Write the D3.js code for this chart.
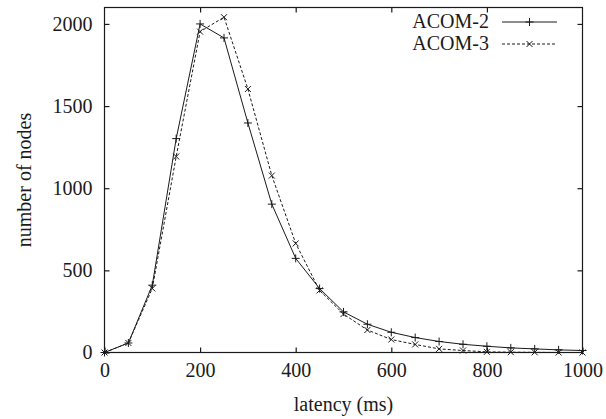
<!DOCTYPE html>
<html>
<head>
<meta charset="utf-8">
<script src="https://cdn.jsdelivr.net/npm/d3@7"></script>
<style>
  html, body { margin: 0; padding: 0; background: #fff; }
  svg { display: block; }
</style>
</head>
<body>
<svg id="chart" width="606" height="419"></svg>
<script>
// latency bins (ms)
const latency = [0, 50, 100, 150, 200, 250, 300, 350, 400, 450, 500,
                 550, 600, 650, 700, 750, 800, 850, 900, 950, 1000];
// number of nodes per latency bin
const acom2 = [0, 58, 410, 1302, 2000, 1915, 1397, 903, 573, 389, 247,
               172, 123, 91, 67, 50, 38, 28, 22, 16, 12];
const acom3 = [0, 58, 390, 1193, 1953, 2041, 1604, 1077, 664, 378, 234,
               137, 79, 49, 22, 12, 4, 2, 1, 0, 0];
const seriesNames = ["ACOM-2", "ACOM-3"];
const xTicks = [0, 200, 400, 600, 800, 1000];
const yTicks = [0, 500, 1000, 1500, 2000];

const serif = "'Liberation Serif'";
const svg = d3.select("#chart");
const plotL = 104.5, plotR = 582.5, plotT = 7.5, plotB = 352.5;
const ink = "#1a1a1a";

const x = d3.scaleLinear().domain([0, 1000]).range([plotL, plotR]);
const y = d3.scaleLinear().domain([0, 2100]).range([plotB, plotT]);

// frame with inward ticks on all sides
svg.append("rect")
  .attr("x", plotL).attr("y", plotT)
  .attr("width", plotR - plotL).attr("height", plotB - plotT)
  .attr("fill", "none").attr("stroke", ink).attr("stroke-width", 1.2);

const tickLen = 5;
const tickFont = 20;
const fmt = d3.format("d");

const gx = svg.append("g").attr("transform", `translate(0,${plotB})`)
  .call(d3.axisBottom(x).tickValues(xTicks).tickFormat(fmt).tickSizeInner(-tickLen).tickSizeOuter(0).tickPadding(10));
const gxTop = svg.append("g").attr("transform", `translate(0,${plotT})`)
  .call(d3.axisTop(x).tickValues(xTicks.slice(1, -1)).tickSizeInner(-tickLen).tickSizeOuter(0).tickFormat(""));
const gy = svg.append("g").attr("transform", `translate(${plotL},0)`)
  .call(d3.axisLeft(y).tickValues(yTicks).tickFormat(fmt).tickSizeInner(-tickLen).tickSizeOuter(0).tickPadding(12));
const gyRight = svg.append("g").attr("transform", `translate(${plotR},0)`)
  .call(d3.axisRight(y).tickValues(yTicks.slice(1)).tickSizeInner(-tickLen).tickSizeOuter(0).tickFormat(""));

[gx, gxTop, gy, gyRight].forEach(g => {
  g.attr("font-family", null).attr("font-size", null);
  g.select(".domain").remove();
  g.selectAll(".tick line").attr("stroke", ink).attr("stroke-width", 1.2);
  g.selectAll(".tick text")
    .style("font-family", serif)
    .style("font-size", tickFont + "px").attr("fill", ink);
});
gx.selectAll(".tick text").attr("dy", "0.71em");

// axis titles
svg.append("text")
  .attr("x", (plotL + plotR) / 2).attr("y", 411)
  .attr("text-anchor", "middle")
  .style("font-family", serif).style("font-size", "20px").attr("fill", ink)
  .text("latency (ms)");
svg.append("text")
  .attr("transform", `translate(31,${(plotT + plotB) / 2}) rotate(-90)`)
  .attr("text-anchor", "middle")
  .style("font-family", serif).style("font-size", "20px").attr("fill", ink)
  .text("number of nodes");

// series
const line = d3.line().x(d => x(d[0])).y(d => y(d[1]));
const s2 = latency.map((l, i) => [l, acom2[i]]);
const s3 = latency.map((l, i) => [l, acom3[i]]);

function plus(g, cx, cy, r) {
  g.append("path").attr("d", `M${cx - r},${cy}H${cx + r}M${cx},${cy - r}V${cy + r}`)
    .attr("stroke", ink).attr("stroke-width", 1).attr("fill", "none");
}
function cross(g, cx, cy, r) {
  g.append("path").attr("d", `M${cx - r},${cy - r}L${cx + r},${cy + r}M${cx - r},${cy + r}L${cx + r},${cy - r}`)
    .attr("stroke", ink).attr("stroke-width", 1).attr("fill", "none");
}

const plot = svg.append("g");
plot.append("path").datum(s2).attr("d", line)
  .attr("fill", "none").attr("stroke", ink).attr("stroke-width", 1);
plot.append("path").datum(s3).attr("d", line)
  .attr("fill", "none").attr("stroke", ink).attr("stroke-width", 1)
  .attr("stroke-dasharray", "3,2");

const m2 = plot.append("g");
s2.forEach(d => plus(m2, x(d[0]), y(d[1]), 4));
const m3 = plot.append("g");
s3.forEach(d => cross(m3, x(d[0]), y(d[1]), 3));

// legend
const legend = svg.append("g");
const legY = [22, 44];
const sx0 = 502, sx1 = 557;
seriesNames.forEach((name, i) => {
  legend.append("text")
    .attr("x", 489).attr("y", legY[i] + 6)
    .attr("text-anchor", "end")
    .style("font-family", serif).style("font-size", "20px").attr("fill", ink)
    .text(name);
  legend.append("line")
    .attr("x1", sx0).attr("x2", sx1).attr("y1", legY[i]).attr("y2", legY[i])
    .attr("stroke", ink).attr("stroke-width", 1)
    .attr("stroke-dasharray", i === 1 ? "3,2" : null);
  if (i === 0) plus(legend, (sx0 + sx1) / 2, legY[i], 4);
  else cross(legend, (sx0 + sx1) / 2, legY[i], 3);
});
</script>
</body>
</html>
